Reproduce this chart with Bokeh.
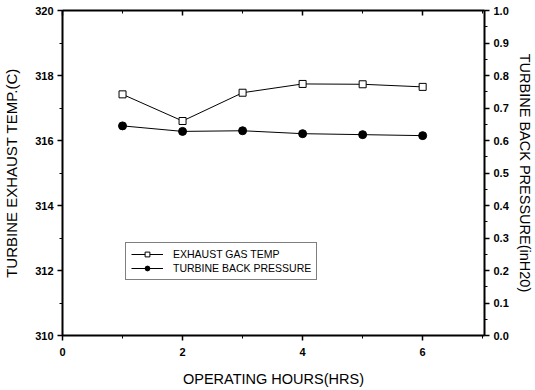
from bokeh.plotting import figure
from bokeh.models import (Range1d, LinearAxis, SingleIntervalTicker, NumeralTickFormatter,
                          Legend, LegendItem)
from bokeh.embed import file_html
from bokeh.resources import INLINE

hours = [1, 2, 3, 4, 5, 6]
exhaust_temp = [317.42, 316.60, 317.47, 317.74, 317.73, 317.65]
back_pressure = [0.645, 0.628, 0.630, 0.621, 0.618, 0.615]

x_ticks_interval = 2
left_ticks_interval = 2
right_ticks_interval = 0.1

FONT = "Liberation Sans"

p = figure(width=535, height=390, x_range=Range1d(0, 7.03), y_range=Range1d(310, 320),
           output_backend="svg", toolbar_location=None,
           min_border_left=62, min_border_right=49, min_border_top=10, min_border_bottom=55,
           x_axis_label="OPERATING HOURS(HRS)", y_axis_label="TURBINE EXHAUST TEMP.(C)")
p.extra_y_ranges = {"p": Range1d(0, 1)}
p.grid.visible = False
p.outline_line_color = None
p.background_fill_color = "white"
p.border_fill_color = "white"

def style(ax, label_size="15px"):
    ax.axis_line_color = "black"
    ax.axis_line_width = 2
    ax.major_tick_line_color = "black"
    ax.major_tick_line_width = 1.5
    ax.minor_tick_line_color = "black"
    ax.minor_tick_line_width = 1
    ax.major_tick_in = 0
    ax.major_tick_out = 5
    ax.minor_tick_in = 0
    ax.minor_tick_out = 3
    ax.major_label_text_font = FONT
    ax.major_label_text_font_style = "bold"
    ax.major_label_text_font_size = "11px"
    ax.major_label_text_color = "black"
    ax.axis_label_text_font = FONT
    ax.axis_label_text_font_style = "normal"
    ax.axis_label_text_font_size = label_size
    ax.axis_label_text_color = "black"

xa = p.xaxis[0]
xa.ticker = SingleIntervalTicker(interval=x_ticks_interval, num_minor_ticks=2)
style(xa, "14.5px")
xa.major_label_standoff = 7
xa.axis_label_standoff = 12

ya = p.yaxis[0]
ya.ticker = SingleIntervalTicker(interval=left_ticks_interval, num_minor_ticks=2)
style(ya)
ya.major_label_standoff = 4
ya.axis_label_standoff = 12

ra = LinearAxis(y_range_name="p", axis_label="TURBINE BACK PRESSURE(inH20)",
                ticker=SingleIntervalTicker(interval=right_ticks_interval, num_minor_ticks=2),
                formatter=NumeralTickFormatter(format="0.0"))
style(ra, "14.5px")
ra.major_label_standoff = 4
ra.axis_label_standoff = 5
p.add_layout(ra, "right")

ta = LinearAxis(ticker=SingleIntervalTicker(interval=x_ticks_interval, num_minor_ticks=2))
style(ta)
ta.major_tick_in = 5
ta.major_tick_out = 0
ta.minor_tick_in = 3
ta.minor_tick_out = 0
ta.major_label_overrides = {0: "", 2: "", 4: "", 6: ""}
ta.major_label_standoff = 0
p.add_layout(ta, "above")

l1 = p.line(hours, exhaust_temp, line_color="black", line_width=1)
s1 = p.scatter(hours, exhaust_temp, marker="square", size=7, fill_color="white",
               line_color="black", line_width=1)
l2 = p.line(hours, back_pressure, y_range_name="p", line_color="black", line_width=1)
s2 = p.scatter(hours, back_pressure, y_range_name="p", marker="circle", size=8,
               fill_color="black", line_color="black")

legend = Legend(items=[LegendItem(label="EXHAUST GAS TEMP", renderers=[l1, s1]),
                       LegendItem(label="TURBINE BACK PRESSURE", renderers=[l2, s2])],
                location=(63, 55))
legend.label_text_font = FONT
legend.label_text_font_size = "10.5px"
legend.label_text_color = "black"
legend.border_line_color = "black"
legend.border_line_width = 1
legend.background_fill_color = "white"
legend.padding = 5
legend.margin = 0
legend.spacing = 2
legend.glyph_width = 32
legend.glyph_height = 12
legend.label_height = 12
legend.label_standoff = 10
p.add_layout(legend)

open("out.html", "w").write(file_html(p, INLINE))
